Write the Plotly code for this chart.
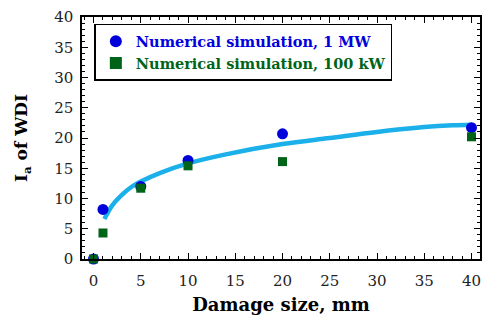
import plotly.graph_objects as go

# Data
damage_size = [0, 1, 5, 10, 20, 40]
ia_1mw = [0.0, 8.2, 12.0, 16.3, 20.7, 21.7]
ia_100kw = [0.0, 4.3, 11.7, 15.4, 16.1, 20.2]

# Fitted trend curve
fit_x = [1.15, 2, 3, 4, 5, 7, 10, 14, 20, 25, 30, 35, 38, 40]
fit_y = [6.6, 8.9, 10.6, 11.9, 12.8, 14.2, 15.8, 17.3, 19.0, 20.0, 21.0, 21.8, 22.1, 22.2]

FONT = "DejaVu Serif"

fig = go.Figure()
fig.add_trace(go.Scatter(
    x=fit_x, y=fit_y, mode="lines", line=dict(color="#1BB0EA", width=4.5, shape="spline"),
    showlegend=False, hoverinfo="skip", cliponaxis=False))
fig.add_trace(go.Scatter(
    x=damage_size, y=ia_1mw, mode="markers",
    name="<b><span style='color:#0000DD'>Numerical simulation, 1 MW</span></b>",
    marker=dict(symbol="circle", size=11, color="#0000DD"), cliponaxis=False))
fig.add_trace(go.Scatter(
    x=damage_size, y=ia_100kw, mode="markers",
    name="<b><span style='color:#006418'>Numerical simulation, 100 kW</span></b>",
    marker=dict(symbol="square", size=9, color="#006418"), cliponaxis=False))

axis_common = dict(
    showline=True, linecolor="black", linewidth=1.5, mirror="ticks",
    ticks="inside", ticklen=6, tickwidth=1, tickcolor="black",
    showgrid=False, zeroline=False,
    tickfont=dict(family=FONT, size=15, color="#222"),
    minor=dict(dtick=1, ticks="inside", ticklen=3, tickwidth=1, tickcolor="black", showgrid=False),
)

fig.update_xaxes(range=[-1.22, 40.9], dtick=5, tick0=0, ticklabelstandoff=7,
                 title=dict(text="<b>Damage size, mm</b>", font=dict(family=FONT, size=18, color="black"), standoff=10),
                 **axis_common)
fig.update_yaxes(range=[0, 40], dtick=5, tick0=0, ticklabelstandoff=4,
                 title=dict(text="<b>I<sub>a</sub> of WDI</b>", font=dict(family=FONT, size=17, color="black"), standoff=22),
                 **axis_common)

fig.update_layout(
    width=485, height=322,
    margin=dict(l=82, r=3, t=17, b=63),
    plot_bgcolor="white", paper_bgcolor="white",
    font=dict(family=FONT),
    legend=dict(
        x=0.031, y=0.972, xanchor="left", yanchor="top",
        bordercolor="black", borderwidth=1.5, bgcolor="white",
        font=dict(family=FONT, size=14.5),
        itemsizing="constant", tracegroupgap=0,
    ),
)

fig.write_html("out.html")
